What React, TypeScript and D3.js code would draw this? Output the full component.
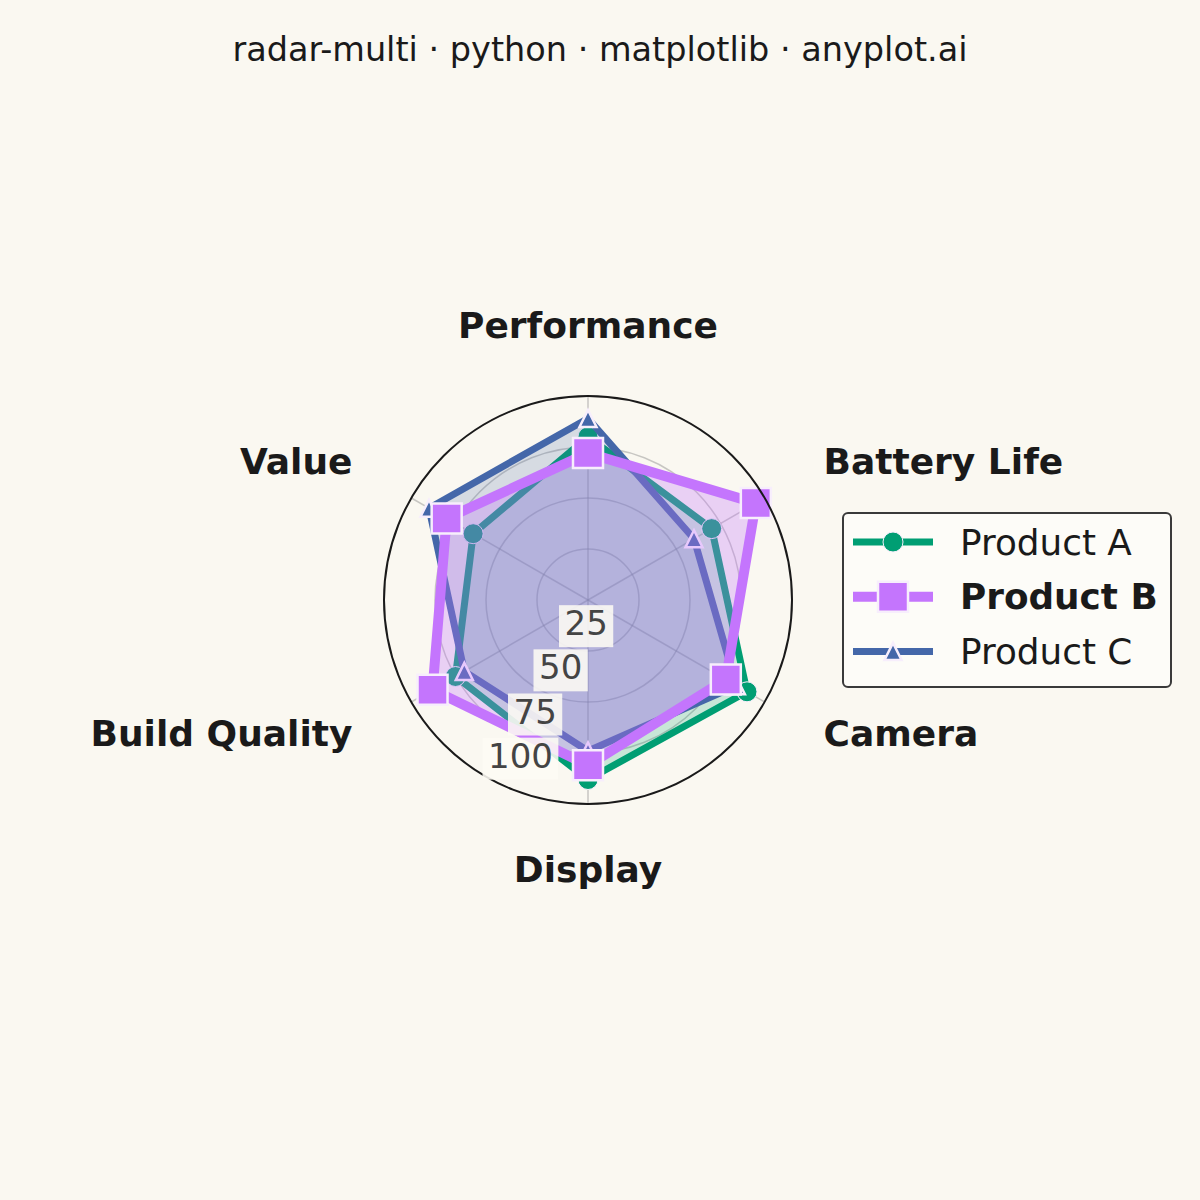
import React from "react";
import * as d3 from "d3";

const width = 1200;
const height = 1200;
const cx = 588;
const cy = 600;
const radius = 204;

const categories = ["Performance", "Battery Life", "Camera", "Display", "Build Quality", "Value"];
const productA = [80, 70, 90, 88, 75, 65];
const productB = [72, 95, 78, 81, 88, 80];
const productC = [89, 60, 84, 74, 70, 90];
const radialTicks = [25, 50, 75, 100];

const series = [
  { name: "Product A", values: productA, color: "#009E73", lw: 7, marker: "circle", size: 20, fillOpacity: 0.2, bold: false },
  { name: "Product B", values: productB, color: "#C475FD", lw: 10, marker: "square", size: 30, fillOpacity: 0.3, bold: true },
  { name: "Product C", values: productC, color: "#4467A9", lw: 7, marker: "triangle", size: 17, fillOpacity: 0.2, bold: false },
];
// B is highlighted, so it is drawn last
const drawOrder = [0, 2, 1];

const rScale = d3.scaleLinear().domain([0, 100]).range([0, radius]);
const angle = (i: number) => (i * 2 * Math.PI) / categories.length;
const pt = (i: number, r: number) => [Math.sin(angle(i)) * r, -Math.cos(angle(i)) * r];

const radial = d3
  .lineRadial<number>()
  .angle((_, i) => angle(i))
  .radius((d) => rScale(d))
  .curve(d3.curveLinearClosed);

function markerPath(kind: string, s: number) {
  if (kind === "circle") return d3.symbol(d3.symbolCircle, Math.PI * (s / 2) * (s / 2))()!;
  if (kind === "square") return d3.symbol(d3.symbolSquare, s * s)()!;
  const h = s / 2;
  return `M0,${-h}L${-h},${h}L${h},${h}Z`;
}

const font = "DejaVu Sans, sans-serif";

export default function App() {
  const labelR = 272;
  return (
    <svg width={width} height={height} style={{ position: "absolute", top: 0, left: 0 }} fontFamily={font}>
      <rect width={width} height={height} fill="#FAF8F1" />
      <text x={600} y={61} textAnchor="middle" fontSize={33.5} fill="#1a1a1a">
        radar-multi · python · matplotlib · anyplot.ai
      </text>

      <g transform={`translate(${cx},${cy})`}>
        {/* grid */}
        {radialTicks.slice(0, 3).map((t) => (
          <circle key={t} r={rScale(t)} fill="none" stroke="#8a8a8a" strokeOpacity={0.45} strokeWidth={1.5} />
        ))}
        {categories.map((c, i) => {
          const [x, y] = pt(i, radius);
          return <line key={c} x1={0} y1={0} x2={x} y2={y} stroke="#8a8a8a" strokeOpacity={0.45} strokeWidth={1.5} />;
        })}

        {drawOrder.map((si) => {
          const s = series[si];
          const d = radial(s.values)!;
          return (
            <g key={s.name}>
              <path d={d} fill={s.color} fillOpacity={s.fillOpacity} stroke="none" />
              <path d={d} fill="none" stroke={s.color} strokeWidth={s.lw} strokeLinejoin="round" />
              {s.values.map((v, i) => {
                const [x, y] = pt(i, rScale(v));
                return (
                  <path
                    key={i}
                    d={markerPath(s.marker, s.size)}
                    transform={`translate(${x},${y})`}
                    fill={s.color}
                    stroke="#F7EEFC"
                    strokeWidth={s.marker === "circle" ? 1 : 2.5}
                  />
                );
              })}
            </g>
          );
        })}

        <circle r={radius} fill="none" stroke="#1a1a1a" strokeWidth={2} />

        {categories.map((c, i) => {
          const [x, y] = pt(i, labelR);
          const sx = Math.sin(angle(i));
          const anchor = Math.abs(sx) < 0.01 ? "middle" : sx > 0 ? "start" : "end";
          return (
            <text key={c} x={x} y={y + 9.5} textAnchor={anchor} fontSize={36} fontWeight="bold" fill="#1a1a1a">
              {c}
            </text>
          );
        })}

        {radialTicks.map((t) => {
          const a = (210 * Math.PI) / 180;
          const ax = Math.sin(a) * rScale(t);
          const ay = -Math.cos(a) * rScale(t);
          const label = String(t);
          const w = label.length * 0.636 * 34;
          const tx = ax + 2;
          const by = ay - 9;
          return (
            <g key={t}>
              <rect x={tx - 5.5} y={by - 30} width={w + 11} height={42} fill="#FDFBF4" fillOpacity={0.88} />
              <text x={tx} y={by} fontSize={34} fill="#444444">
                {label}
              </text>
            </g>
          );
        })}
      </g>

      {/* legend */}
      <g>
        <rect x={843} y={513} width={328} height={174} rx={5} fill="#FDFCF8" stroke="#3a3a3a" strokeWidth={2} />
        {series.map((s, i) => {
          const y = 542 + i * 54.7;
          return (
            <g key={s.name}>
              <line x1={853} x2={933} y1={y} y2={y} stroke={s.color} strokeWidth={s.lw} />
              <path d={markerPath(s.marker, s.size)} transform={`translate(893,${y})`} fill={s.color} stroke="#F7EEFC" strokeWidth={s.marker === "circle" ? 1 : 2.5} />
              <text x={960} y={y + 12.5} fontSize={35.8} fontWeight={s.bold ? "bold" : "normal"} fill="#1a1a1a">
                {s.name}
              </text>
            </g>
          );
        })}
      </g>
    </svg>
  );
}
